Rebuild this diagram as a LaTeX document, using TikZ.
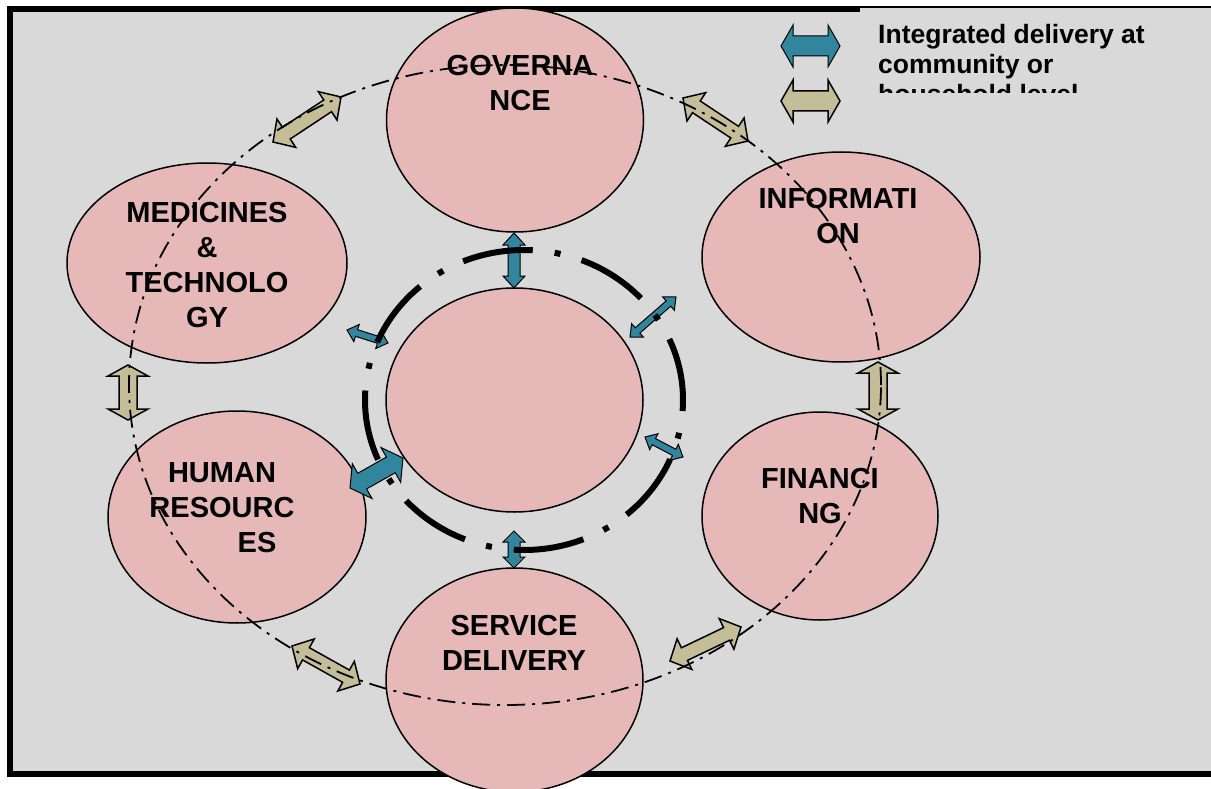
\documentclass[tikz,border=0pt]{standalone}
\usepackage{fontspec}
\setmainfont{Liberation Sans}
\usetikzlibrary{shapes.geometric,calc}
\definecolor{bggray}{HTML}{D9D9D9}
\definecolor{pinkfill}{HTML}{E6B9B8}
\definecolor{tealfill}{HTML}{31859C}
\definecolor{tanfill}{HTML}{C4BD97}
% #1 style, #2 from, #3 to, #4 shaft half width, #5 head half width, #6 head length
\newcommand\blockarrow[6]{%
  \coordinate (ba1) at ($(#2)!#6!(#3)$);
  \coordinate (ba2) at ($(#3)!#6!(#2)$);
  \draw[#1] (#2) -- ($(ba1)!#5!90:(#3)$) -- ($(ba1)!#4!90:(#3)$)
    -- ($(ba2)!#4!-90:(#2)$) -- ($(ba2)!#5!-90:(#2)$) -- (#3)
    -- ($(ba2)!#5!90:(#2)$) -- ($(ba2)!#4!90:(#2)$)
    -- ($(ba1)!#4!-90:(#3)$) -- ($(ba1)!#5!-90:(#3)$) -- cycle;
}
\begin{document}
\begin{tikzpicture}[x=1pt,y=-1pt,
  ell/.style={ellipse, draw=black, line width=1.5pt, fill=pinkfill, inner sep=0pt, outer sep=0pt},
  lbl/.style={anchor=north, align=center, inner sep=0pt, font=\fontsize{29}{35}\selectfont\bfseries},
  legtext/.style={anchor=north west, align=left, inner sep=0pt, font=\fontsize{26.5}{30}\selectfont\bfseries},
  bluearr/.style={fill=tealfill, draw=black, line width=1pt, line join=miter},
  tanarr/.style={fill=tanfill, draw=black, line width=1.5pt, line join=miter},
  outerring/.style={draw=black, line width=1.8pt, dash pattern=on 18pt off 7pt on 3pt off 7pt},
  innerring/.style={draw=black, line width=6pt, dash pattern=on 71pt off 22pt on 6pt off 22pt, dash phase=8pt},
]
\useasboundingbox (0,0) rectangle (1211,789);
% frame
\draw[line width=6pt, fill=bggray] (10,9.5) rectangle (1240,773.5);
% legend box
\fill[bggray] (860,8.3) rectangle (1215,93);
\draw[line width=1.5pt] (860,7.5) -- (1215,7.5);

% ellipses
\node[ell, minimum width=257pt, minimum height=224pt] (gov) at (515,120) {};
\node[ell, minimum width=257pt, minimum height=224pt] (ctr) at (514.5,400) {};
\node[ell, minimum width=257pt, minimum height=224pt] (svc) at (514.5,680) {};
\node[ell, minimum width=280pt, minimum height=200pt] (med) at (207,263) {};
\node[ell, minimum width=278pt, minimum height=210pt] (info) at (841,257) {};
\node[ell, minimum width=258pt, minimum height=212pt] (hr) at (237,517) {};
\node[ell, minimum width=236pt, minimum height=208pt] (fin) at (820,516) {};

% blue arrow ends
\coordinate (b1a) at (514,233); \coordinate (b1b) at (514,288);
\coordinate (b2a) at (514,531); \coordinate (b2b) at (514,568);
\coordinate (b3a) at (630,337); \coordinate (b3b) at (676,297);
\coordinate (b4a) at (347,330); \coordinate (b4b) at (388,343);
\coordinate (b5a) at (645,437); \coordinate (b5b) at (683,457);
\coordinate (b6a) at (350,488); \coordinate (b6b) at (403,458);
\blockarrow{bluearr}{b1a}{b1b}{6pt}{11pt}{12pt}
\blockarrow{bluearr}{b2a}{b2b}{6pt}{11pt}{11pt}
\blockarrow{bluearr}{b3a}{b3b}{3.5pt}{9pt}{10pt}
\blockarrow{bluearr}{b4a}{b4b}{3.5pt}{9pt}{10pt}
\blockarrow{bluearr}{b5a}{b5b}{3.5pt}{9pt}{10pt}
\blockarrow{bluearr}{b6a}{b6b}{9pt}{20pt}{14pt}

% tan arrow ends
\coordinate (t1a) at (273,142); \coordinate (t1b) at (341,97);
\coordinate (t2a) at (683,98);  \coordinate (t2b) at (748,141);
\coordinate (t3a) at (878,362); \coordinate (t3b) at (878,420);
\coordinate (t4a) at (128,365); \coordinate (t4b) at (128,420);
\coordinate (t5a) at (292,646); \coordinate (t5b) at (360,684);
\coordinate (t6a) at (670,661); \coordinate (t6b) at (741,627);
\blockarrow{tanarr}{t1a}{t1b}{7pt}{17pt}{16pt}
\blockarrow{tanarr}{t2a}{t2b}{7pt}{17pt}{16pt}
\blockarrow{tanarr}{t3a}{t3b}{9pt}{20pt}{11pt}
\blockarrow{tanarr}{t4a}{t4b}{9pt}{20pt}{11pt}
\blockarrow{tanarr}{t5a}{t5b}{7pt}{17pt}{16pt}
\blockarrow{tanarr}{t6a}{t6b}{7pt}{17pt}{16pt}

% labels
\node[lbl] (govt) at (520,55) {GOVERNA\\NCE};
\node[lbl] (medt) at (207,202) {MEDICINES\\\&\\TECHNOLO\\GY};
\node[lbl] (infot) at (838,188) {INFORMATI\\ON};
\node[lbl] (hrt) at (222,462) {HUMAN\\RESOURC\\\hspace*{70pt}ES};
\node[lbl] (fint) at (820,468) {FINANCI\\NG};
\node[lbl] (svct) at (514,615) {SERVICE\\DELIVERY};

% rings
\draw[outerring] (505,385) ellipse [x radius=376pt, y radius=320pt];
\draw[innerring] (524,400) ellipse [x radius=159pt, y radius=150pt];

% legend
\coordinate (lba) at (781,46); \coordinate (lbb) at (840,46);
\coordinate (lta) at (781,101); \coordinate (ltb) at (840,101);
\blockarrow{bluearr}{lba}{lbb}{10pt}{21pt}{12pt}
\blockarrow{tanarr}{lta}{ltb}{10pt}{21pt}{12pt}
\begin{scope}
\clip (860,8) rectangle (1211,93);
\node[legtext] (leg) at (878,24.5) {Integrated delivery at\\community or\\household level};
\end{scope}
\end{tikzpicture}
\end{document}
